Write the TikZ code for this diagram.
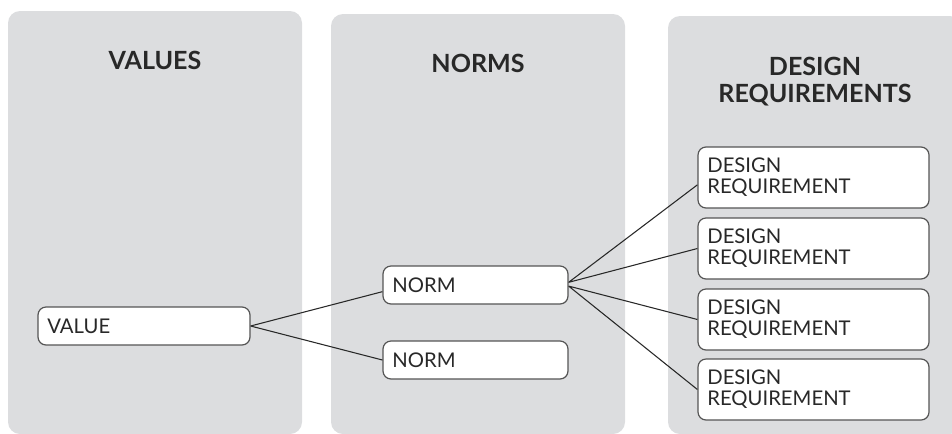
\documentclass[tikz,border=0pt]{standalone}
\usepackage{fontspec}
\setmainfont{Lato}
\usepackage{tikz}
\definecolor{panelgray}{RGB}{220,221,223}
\definecolor{boxline}{RGB}{85,85,85}
\definecolor{inkgray}{RGB}{40,40,40}
\tikzset{
  box/.style={draw=boxline, line width=0.9pt, fill=white, rounded corners=6pt,
    inner xsep=7pt, align=left, text=inkgray, font=\fontsize{15.2}{15.75}\selectfont},
  valuebox/.style={box, minimum width=159pt, minimum height=28.5pt, text width=145pt},
  normbox/.style={box, minimum width=138.75pt, minimum height=28.5pt, text width=124.75pt},
  reqbox/.style={box, minimum width=173.25pt, minimum height=45.75pt, text width=159.25pt},
  title/.style={font=\fontsize{18.8}{20.25}\selectfont\bfseries, align=center, text=inkgray},
  link/.style={line width=0.8pt, draw=inkgray}
}

\begin{document}
\begin{tikzpicture}[x=0.75pt,y=-0.75pt]
\useasboundingbox (0,0) rectangle (952,433);
\fill[panelgray, rounded corners=9pt]
(8,11) rectangle (302,434)
(331,14) rectangle (625,434)
(668,16) rectangle (962,434);
\node[title, anchor=base] (tvalues) at (155,69) {VALUES};
\node[title, anchor=base] (tnorms) at (478,72) {NORMS};
\node[title, anchor=base] (treqs) at (815,102) {DESIGN\\REQUIREMENTS};
\node[valuebox] (value) at (144,326) {VALUE};
\node[normbox] (norm1) at (475.5,285) {NORM};
\node[normbox] (norm2) at (475.5,360) {NORM};
\node[reqbox] (req1) at (813.5,177.5) {DESIGN\\REQUIREMENT};
\node[reqbox] (req2) at (813.5,248.5) {DESIGN\\REQUIREMENT};
\node[reqbox] (req3) at (813.5,319.5) {DESIGN\\REQUIREMENT};
\node[reqbox] (req4) at (813.5,389.5) {DESIGN\\REQUIREMENT};
\draw[link]
(value.east) -- ([yshift=-5pt]norm1.west)
(value.east) -- (norm2.west)
([yshift=2pt]norm1.east) -- ([yshift=-5.5pt]req1.west)
([yshift=2pt]norm1.east) -- (req2.west)
([yshift=-0.8pt]norm1.east) -- (req3.west)
([yshift=-0.8pt]norm1.east) -- (req4.west);
\end{tikzpicture}
\end{document}
